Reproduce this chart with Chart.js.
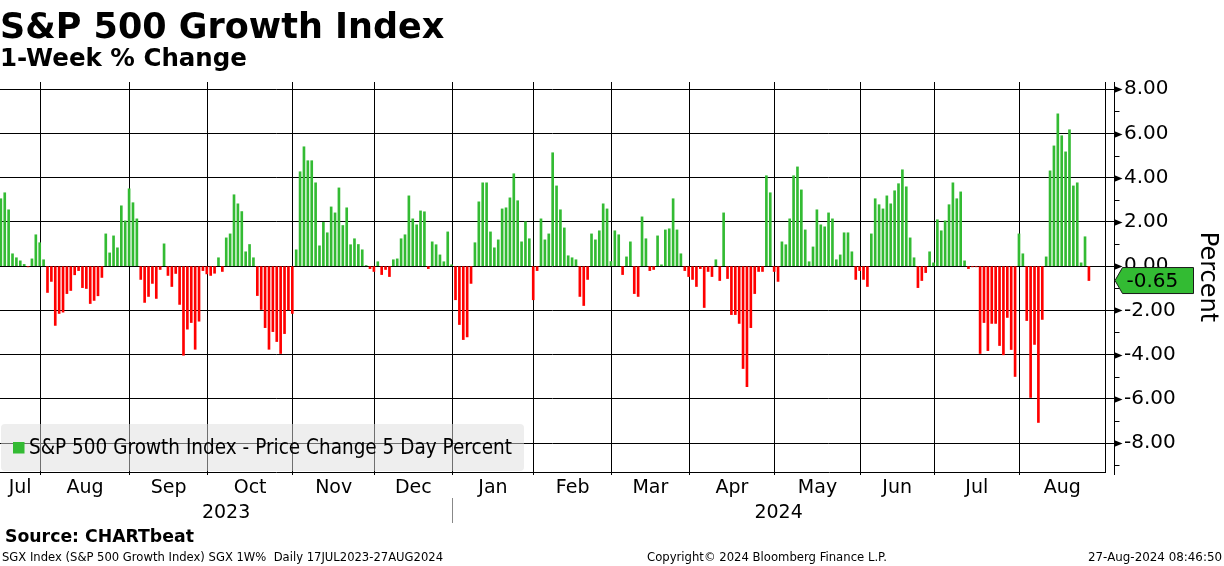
<!DOCTYPE html>
<html>
<head>
<meta charset="utf-8">
<script src="https://cdn.jsdelivr.net/npm/chart.js@4.4.1/dist/chart.umd.min.js"></script>
<style>
  html, body { margin: 0; padding: 0; background: #ffffff; }
  canvas { display: block; }
</style>
</head>
<body>
<canvas id="c" width="1224" height="566"></canvas>
<script>
// ---------------- DATA ----------------
const chartTitle = 'S&P 500 Growth Index';
const chartSubtitle = '1-Week % Change';
const seriesLabel = 'S&P 500 Growth Index - Price Change 5 Day Percent';
const axisTitle = 'Percent';
const sourceText = 'Source: CHARTbeat';
const footerLeft = 'SGX Index (S&P 500 Growth Index) SGX 1W%  Daily 17JUL2023-27AUG2024';
const footerCenter = 'Copyright\u00A9 2024 Bloomberg Finance L.P.';
const footerRight = '27-Aug-2024 08:46:50';

const monthLabels = ['Jul','Aug','Sep','Oct','Nov','Dec','Jan','Feb','Mar','Apr','May','Jun','Jul','Aug'];
const monthTradingDays = [11,23,20,22,21,20,21,20,20,22,22,19,22,18];
const yearLabels = ['2023','2024'];
const yearMonthCounts = [6,8];
const yTickValues = [-8,-6,-4,-2,0,2,4,6,8];
const yMinorTickValues = [-9,-7,-5,-3,-1,1,3,5,7];

// 1-week % change, one value per trading day (17 Jul 2023 .. 26 Aug 2024)
const weeklyChange = [
  // Jul 2023
  3.05,3.32,2.55,0.56,0.38,0.24,0.08,-0.03,0.33,1.42,1.06,
  // Aug 2023
  0.29,-1.19,-0.69,-2.68,-2.14,-2.08,-1.24,-1.10,-0.39,-0.20,-0.97,-1.01,-1.69,-1.55,-1.34,-0.51,1.46,0.60,1.37,0.83,2.73,2.05,3.50,
  // Sep 2023
  2.87,2.14,-0.60,-1.64,-1.37,-0.78,-1.46,-0.15,1.01,-0.42,-0.92,-0.33,-1.73,-4.03,-2.85,-2.55,-3.76,-2.49,-0.20,-0.35,
  // Oct 2023
  -0.42,-0.32,0.38,-0.24,1.28,1.46,3.23,2.82,2.47,0.65,0.98,0.38,-1.33,-1.96,-2.78,-3.76,-2.96,-3.41,-3.95,-3.05,-1.98,-2.14,
  // Nov 2023
  0.74,4.27,5.40,4.77,4.77,3.77,0.92,1.98,1.51,2.68,2.41,3.54,1.84,2.64,0.97,1.24,0.98,0.74,0.03,-0.11,-0.24,
  // Dec 2023
  0.20,-0.38,-0.15,-0.47,0.29,0.33,1.24,1.42,3.18,2.14,1.87,2.50,2.46,-0.11,1.10,0.97,0.51,0.20,1.55,0.06,
  // Jan 2024
  -1.52,-2.64,-3.32,-3.20,-0.78,1.06,2.91,3.77,3.77,1.55,0.83,1.19,2.59,2.64,3.09,4.18,2.96,1.10,2.01,1.24,-1.52,
  // Feb 2024
  -0.20,2.14,1.19,1.46,5.13,3.63,2.55,1.73,0.47,0.38,0.29,-1.37,-1.78,-0.60,1.46,1.19,1.60,2.82,2.59,0.21,
  // Mar 2024
  1.60,1.42,-0.38,0.42,1.10,-1.24,-1.37,2.23,1.24,-0.20,-0.15,1.37,0.06,1.64,1.69,3.05,1.64,0.56,-0.20,-0.47,
  // Apr 2024
  -0.60,-0.92,-0.11,-1.87,-0.24,-0.47,0.29,-0.65,2.41,-0.56,-2.19,-2.19,-2.59,-4.63,-5.45,-2.78,-1.24,-0.24,-0.24,4.09,3.32,-0.24,
  // May 2024
  -0.69,1.10,0.97,2.14,4.09,4.49,3.45,1.64,0.20,0.87,2.55,1.87,1.78,2.41,2.14,0.29,0.51,1.51,1.51,0.65,-0.60,-0.20,
  // Jun 2024
  -0.60,-0.92,1.46,3.05,2.78,2.59,3.18,2.82,3.41,3.73,4.36,3.59,1.28,0.38,-0.97,-0.65,-0.29,0.65,0.15,
  // Jul 2024
  2.10,1.60,2.05,2.78,3.77,3.05,3.36,0.24,-0.11,-0.03,-0.03,-3.95,-2.55,-3.82,-2.59,-2.59,-3.59,-4.01,-2.32,-3.77,-4.99,1.46,
  // Aug 2024
  0.56,-2.46,-5.94,-3.54,-7.07,-2.41,0.42,4.31,5.44,6.89,5.90,5.17,6.17,3.63,3.77,0.15,1.33,-0.65
];

// ---------------- STYLE / LAYOUT ----------------
const GREEN = '#33bb33';
const RED = '#ff0000';
const FONT = 'DejaVu Sans';
const X_MIN = -0.22, X_MAX = 284.14;
const Y_MIN = -9.31, Y_MAX = 8.33;

Chart.defaults.font.family = FONT;
Chart.defaults.color = '#000';

// month boundaries (between last trading day of a month and first of the next)
const cumDays = [];
monthTradingDays.reduce((s, n) => { cumDays.push(s + n); return s + n; }, 0);
const monthBoundaries = cumDays.slice(0, -1).map(c => c - 0.85);
const monthEdges = [X_MIN, ...monthBoundaries, X_MAX];
const monthMids = monthLabels.map((_, i) => (monthEdges[i] + monthEdges[i + 1]) / 2);

const yearBoundaryIdx = [];
yearMonthCounts.reduce((s, n) => { yearBoundaryIdx.push(s + n); return s + n; }, 0);
const yearBoundaries = yearBoundaryIdx.slice(0, -1).map(k => monthBoundaries[k - 1]);
const yearEdges = [X_MIN, ...yearBoundaries, X_MAX];
const yearMids = yearLabels.map((_, i) => (yearEdges[i] + yearEdges[i + 1]) / 2);

const points = weeklyChange.map((v, i) => ({ x: i, y: v }));

const extrasPlugin = {
  id: 'bbgExtras',
  afterDatasetsDraw(chart) {
    const ctx = chart.ctx;
    const ca = chart.chartArea;
    // legend box inside plot, bottom-left
    const lx = 1, ly = 424, lw = 523, lh = ca.bottom - 424 - 1;
    ctx.save();
    ctx.fillStyle = 'rgba(222,222,222,0.5)';
    ctx.beginPath();
    if (ctx.roundRect) ctx.roundRect(lx, ly, lw, lh, 4); else ctx.rect(lx, ly, lw, lh);
    ctx.fill();
    ctx.fillStyle = GREEN;
    ctx.fillRect(13, 442, 11.5, 11.5);
    ctx.fillStyle = '#000';
    ctx.font = '20.5px "' + FONT + '"';
    ctx.textBaseline = 'middle';
    ctx.textAlign = 'left';
    ctx.fillText(chart.data.datasets[0].label, 29, 449, 483);
    ctx.restore();
  },
  afterDraw(chart) {
    const ctx = chart.ctx;
    const ca = chart.chartArea;
    const y = chart.scales.y;
    const x = chart.scales.x;
    const x2 = chart.scales.x2;
    const ax = Math.round(ca.right + 9) + 0.5;
    ctx.save();
    // secondary axis line
    ctx.strokeStyle = '#000';
    ctx.lineWidth = 1;
    ctx.beginPath();
    ctx.moveTo(ax, ca.top);
    ctx.lineTo(ax, ca.bottom + 3);
    ctx.stroke();
    // minor ticks
    yMinorTickValues.forEach(v => {
      const py = Math.round(y.getPixelForValue(v)) + 0.5;
      ctx.beginPath();
      ctx.moveTo(ax, py);
      ctx.lineTo(ax + 5, py);
      ctx.stroke();
    });
    // arrow heads at major ticks
    ctx.fillStyle = '#000';
    yTickValues.forEach(v => {
      const py = Math.round(y.getPixelForValue(v)) + 0.5;
      ctx.beginPath();
      ctx.moveTo(ax - 0.5, py - 3.5);
      ctx.lineTo(ax + 8, py);
      ctx.lineTo(ax - 0.5, py + 3.5);
      ctx.closePath();
      ctx.fill();
    });
    // last value tag
    const lastVal = weeklyChange[weeklyChange.length - 1];
    const vy = y.getPixelForValue(lastVal);
    ctx.beginPath();
    ctx.moveTo(ax + 0.5, vy);
    ctx.lineTo(ax + 8, vy - 13);
    ctx.lineTo(ax + 79, vy - 13);
    ctx.lineTo(ax + 79, vy + 13);
    ctx.lineTo(ax + 8, vy + 13);
    ctx.closePath();
    ctx.fillStyle = GREEN;
    ctx.fill();
    ctx.strokeStyle = '#1a1a1a';
    ctx.stroke();
    ctx.fillStyle = '#000';
    ctx.font = '20px "' + FONT + '"';
    ctx.textBaseline = 'middle';
    ctx.textAlign = 'left';
    ctx.fillText(lastVal.toFixed(2), ax + 12, vy + 1);
    // year divider
    ctx.strokeStyle = '#888';
    yearBoundaries.forEach(b => {
      const px = Math.round(x.getPixelForValue(b)) + 0.5;
      ctx.beginPath();
      ctx.moveTo(px, x2.top - 1);
      ctx.lineTo(px, x2.bottom - 1);
      ctx.stroke();
    });
    // source + footer
    ctx.fillStyle = '#000';
    ctx.font = 'bold 17.3px "' + FONT + '"';
    ctx.fillText(sourceText, 5, 537.5, 192);
    ctx.font = '12.5px "' + FONT + '"';
    ctx.fillText(footerLeft, 2, 557.5, 441);
    ctx.fillText(footerCenter, 647, 557.5, 240);
    ctx.textAlign = 'right';
    ctx.fillText(footerRight, 1222, 557.5, 134);
    ctx.restore();
  }
};

new Chart(document.getElementById('c'), {
  type: 'bar',
  data: {
    datasets: [{
      label: seriesLabel,
      data: points,
      xAxisID: 'x',
      yAxisID: 'y',
      barThickness: 2,
      borderWidth: 0,
      backgroundColor: (c) => (c.raw && c.raw.y < 0) ? RED : GREEN
    }]
  },
  options: {
    responsive: false,
    animation: false,
    devicePixelRatio: 1,
    events: [],
    layout: { padding: { top: 0, left: 0, right: 0, bottom: 42 } },
    plugins: {
      legend: { display: false },
      tooltip: { enabled: false },
      title: {
        display: true, text: chartTitle, align: 'start', color: '#000',
        font: { family: FONT, size: 35, weight: 'bold', lineHeight: 1 },
        padding: { top: 11, bottom: 0 }
      },
      subtitle: {
        display: true, text: chartSubtitle, align: 'start', color: '#000',
        font: { family: FONT, size: 24.5, weight: 'bold', lineHeight: 1 },
        padding: { top: 1.5, bottom: 10 }
      }
    },
    scales: {
      x: {
        type: 'linear', position: 'bottom', weight: 1,
        min: X_MIN, max: X_MAX, offset: false,
        afterBuildTicks(scale) {
          const t = [];
          monthBoundaries.forEach(b => t.push({ value: b, kind: 'grid' }));
          monthMids.forEach((m, i) => t.push({ value: m, kind: 'label', text: monthLabels[i] }));
          t.sort((a, b) => a.value - b.value);
          scale.ticks = t;
        },
        afterFit(scale) { scale.height = 27; },
        ticks: {
          autoSkip: false, maxRotation: 0, minRotation: 0, padding: 1.5,
          font: { size: 19 }, color: '#000',
          callback(value, index, ticks) {
            const t = ticks[index];
            return t && t.kind === 'label' ? t.text : '';
          }
        },
        grid: {
          offset: false, drawTicks: true, tickLength: 3, lineWidth: 1,
          color: (c) => (c.tick && c.tick.kind === 'grid') ? '#000' : 'rgba(0,0,0,0)',
          tickColor: (c) => (c.tick && c.tick.kind === 'grid') ? '#000' : 'rgba(0,0,0,0)'
        },
        border: { display: true, color: '#000', width: 1 }
      },
      x2: {
        type: 'linear', position: 'bottom', weight: 2,
        min: X_MIN, max: X_MAX, offset: false,
        afterBuildTicks(scale) {
          scale.ticks = yearMids.map((m, i) => ({ value: m, text: yearLabels[i] }));
        },
        afterFit(scale) { scale.height = 25; },
        ticks: {
          autoSkip: false, maxRotation: 0, minRotation: 0, padding: 3,
          font: { size: 19 }, color: '#000',
          callback(value, index, ticks) { return ticks[index] ? ticks[index].text : ''; }
        },
        grid: { display: false, drawTicks: false, tickLength: 0, offset: false },
        border: { display: false }
      },
      y: {
        type: 'linear', position: 'right',
        min: Y_MIN, max: Y_MAX,
        afterBuildTicks(scale) { scale.ticks = yTickValues.map(v => ({ value: v })); },
        afterFit(scale) { scale.width = 119; },
        ticks: {
          padding: 10, font: { size: 20 }, color: '#000',
          callback: (v) => Number(v).toFixed(2)
        },
        grid: { color: '#000', lineWidth: 1, drawTicks: true, tickLength: 9, tickColor: '#000' },
        border: { display: true, color: '#000', width: 1 },
        title: {
          display: true, text: axisTitle, color: '#000',
          font: { family: FONT, size: 24 },
          padding: { top: 2, bottom: 0 }
        }
      }
    }
  },
  plugins: [extrasPlugin]
});
</script>
</body>
</html>
